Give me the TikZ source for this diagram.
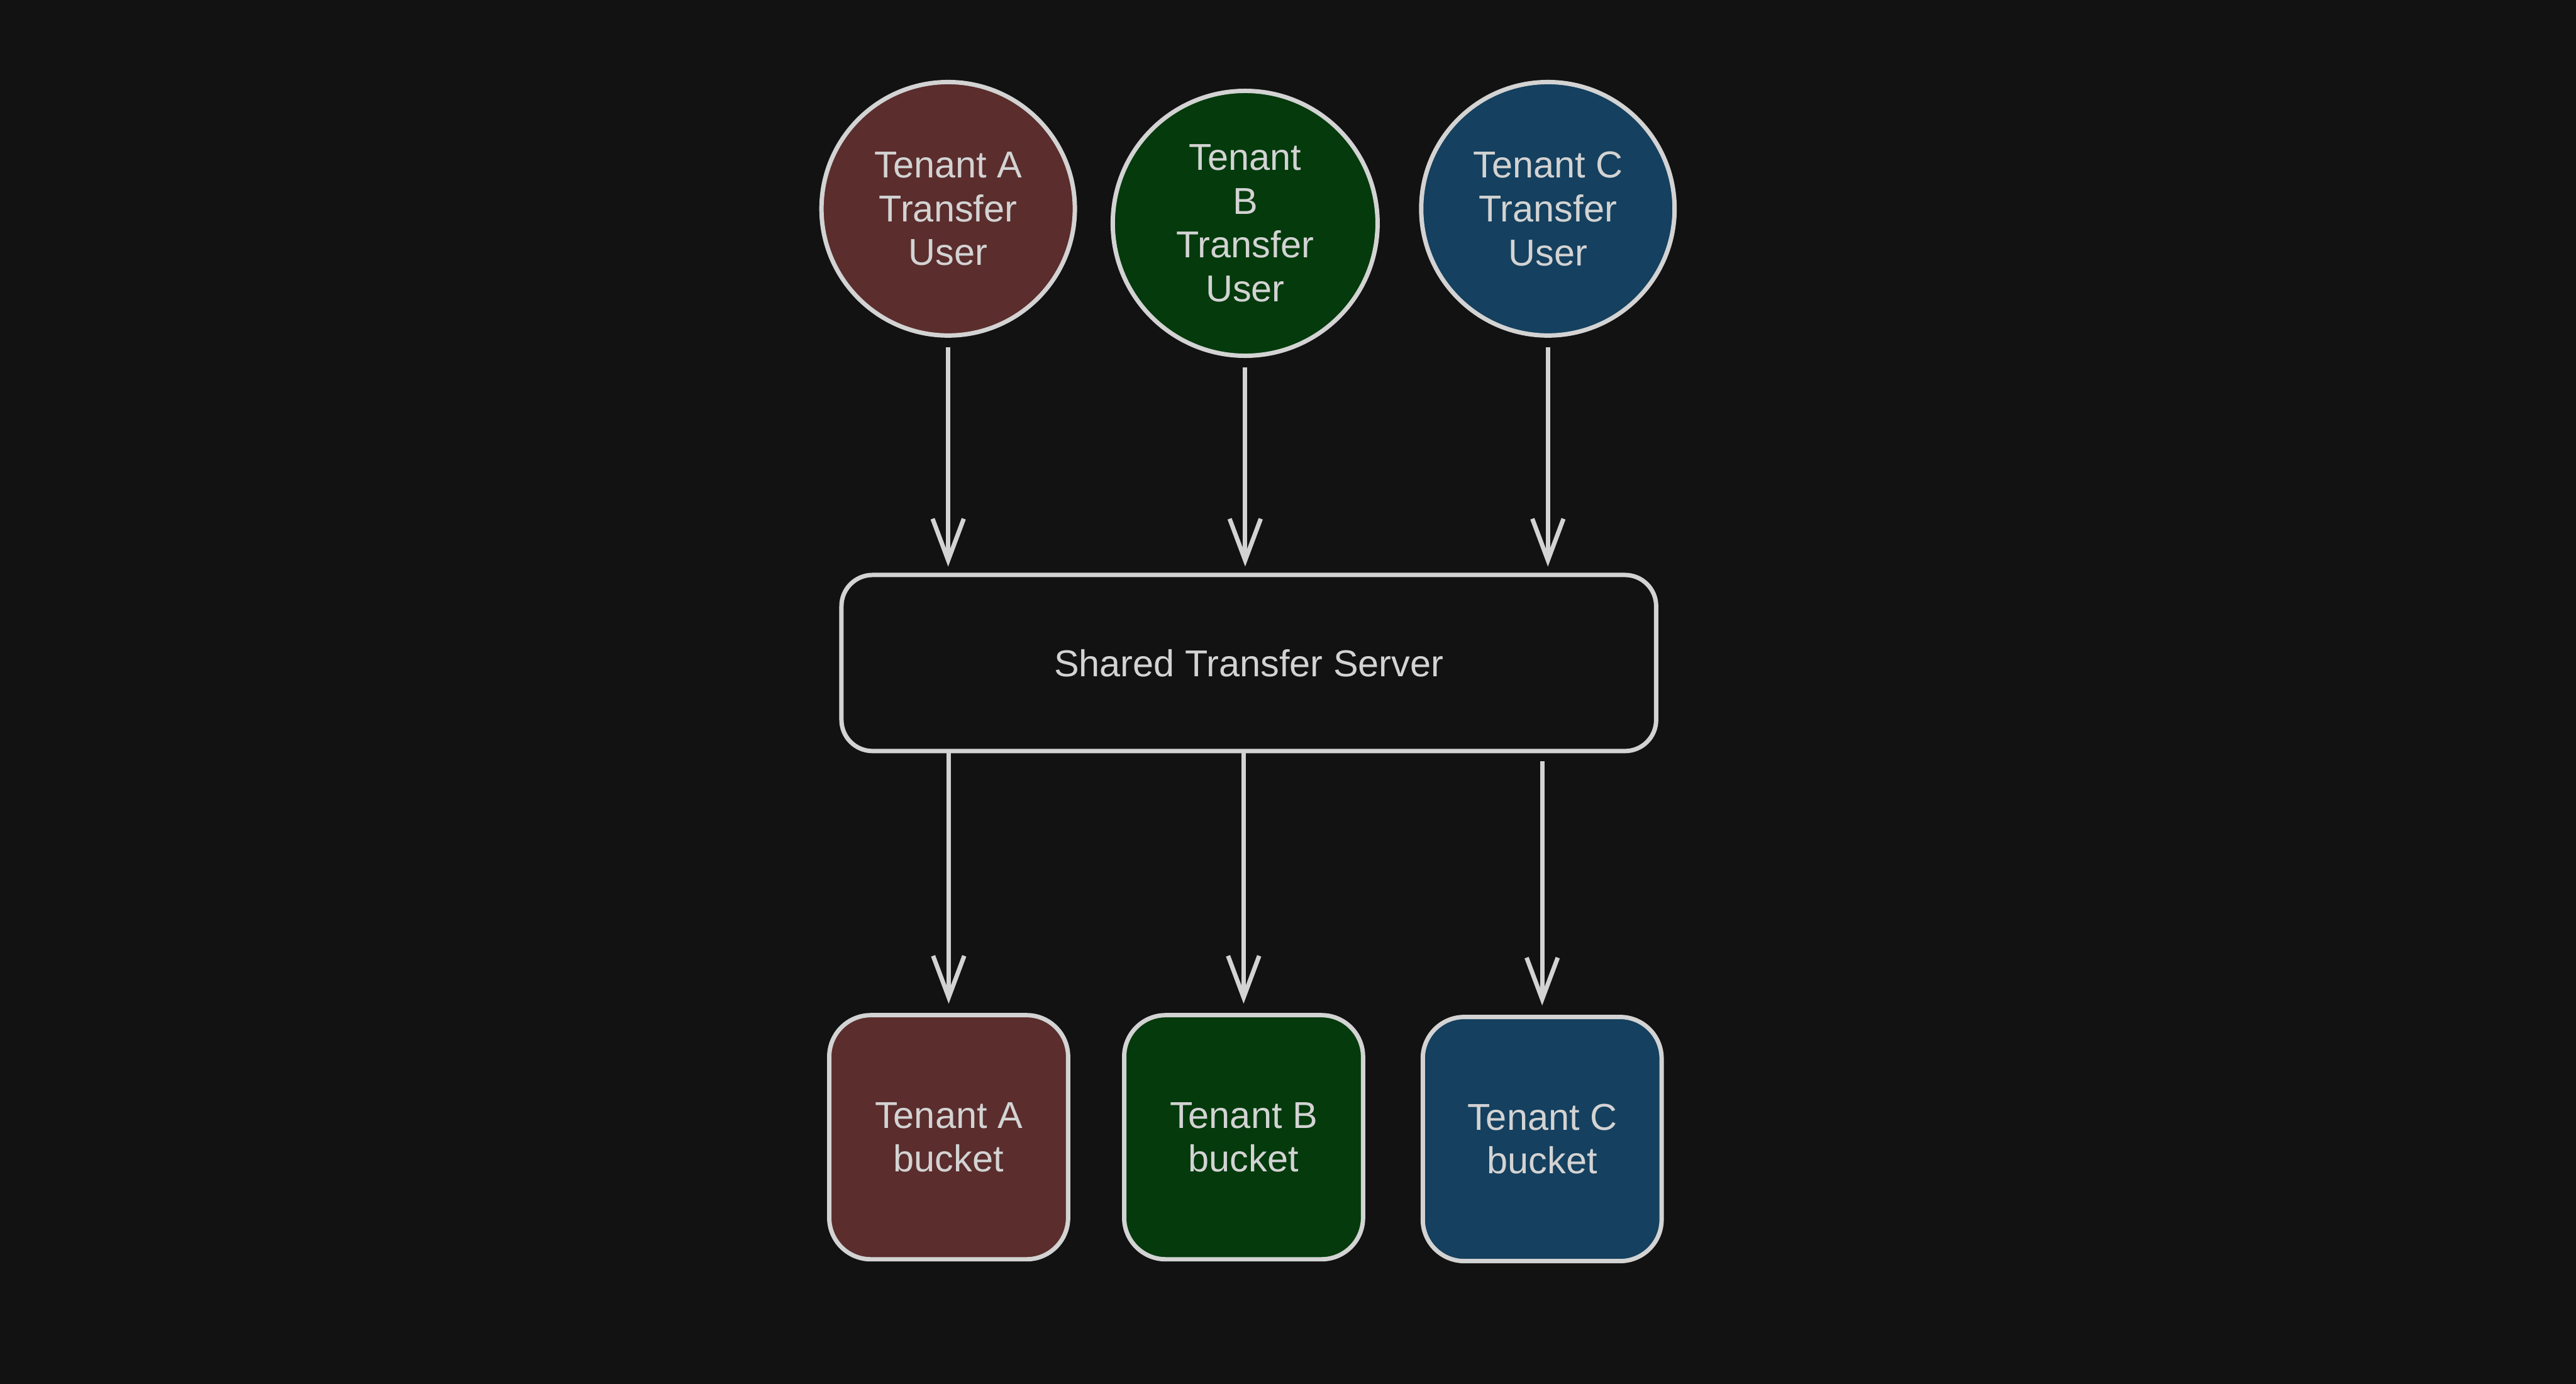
\documentclass[tikz,border=0pt]{standalone}
\usepackage{fontspec}
\setmainfont{Liberation Sans}
\usetikzlibrary{arrows.meta}

\definecolor{bgdark}{HTML}{121212}
\definecolor{inkgrey}{HTML}{D3D3D3}
\definecolor{tenantred}{HTML}{5B2D2D}
\definecolor{tenantgreen}{HTML}{043A0C}
\definecolor{tenantblue}{HTML}{15405F}

\tikzset{
  sketch/.style={draw=inkgrey, line width=2.4pt, text=inkgrey, align=center,
    font=\fontsize{20.5}{24}\selectfont},
  userdisc/.style={sketch, circle, inner sep=0pt},
  bucketbox/.style={sketch, rectangle, rounded corners=0.8cm, inner sep=0pt,
    minimum width=4.6cm, minimum height=4.7cm},
  flow/.style={draw=inkgrey, line width=2.4pt,
    -{Straight Barb[length=0.8cm, width=0.6cm, line width=2.4pt]}}
}

\begin{document}
\begin{tikzpicture}
    % Dark background, fixes the page size
    \fill[bgdark] (0,0) rectangle (49.61, 26.64);
    \useasboundingbox (0,0) rectangle (49.61, 26.64);

    % Tenant transfer users (discs)
    \node[userdisc, fill=tenantred, minimum size=4.88cm] (userA) at (18.26, 22.62) {Tenant A\\Transfer\\User};
    \node[userdisc, fill=tenantgreen, minimum size=5.1cm] (userB) at (23.98, 22.34) {Tenant\\B\\Transfer\\User};
    \node[userdisc, fill=tenantblue, minimum size=4.88cm] (userC) at (29.81, 22.62) {Tenant C\\Transfer\\User};

    % Shared server (wide rounded box)
    \node[sketch, rectangle, rounded corners=0.6cm, minimum width=15.69cm,
      minimum height=3.39cm, fill=bgdark] (server) at (24.05, 13.875) {Shared Transfer Server};

    % Tenant buckets
    \node[bucketbox, fill=tenantred] (bucketA) at (18.27, 4.745) {Tenant A\\bucket};
    \node[bucketbox, fill=tenantgreen] (bucketB) at (23.95, 4.745) {Tenant B\\bucket};
    \node[bucketbox, fill=tenantblue] (bucketC) at (29.70, 4.71) {Tenant C\\bucket};

    % Users into the server
    \draw[flow, shorten <=0.18cm, shorten >=0.12cm] (userA.south) -- (userA.south |- server.north);
    \draw[flow, shorten <=0.18cm, shorten >=0.12cm] (userB.south) -- (userB.south |- server.north);
    \draw[flow, shorten <=0.18cm, shorten >=0.12cm] (userC.south) -- (userC.south |- server.north);

    % Server out to the buckets
    \draw[flow, shorten >=0.18cm] (server.south -| bucketA.north) -- (bucketA.north);
    \draw[flow, shorten >=0.18cm] (server.south -| bucketB.north) -- (bucketB.north);
    \draw[flow, shorten <=0.15cm, shorten >=0.18cm] (server.south -| bucketC.north) -- (bucketC.north);

  \end{tikzpicture}
\end{document}
